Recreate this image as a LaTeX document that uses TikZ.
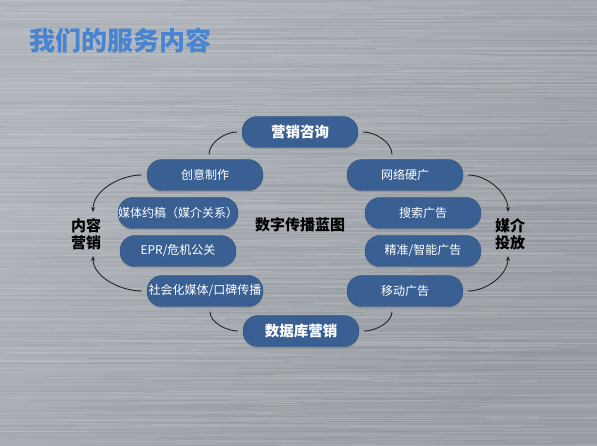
\documentclass[tikz,border=0pt]{standalone}
\usepackage{fontspec}
\newfontfamily\cjk{Noto Sans CJK SC}
\usetikzlibrary{arrows.meta,shadows}
\definecolor{boxblue}{RGB}{58,96,147}
\definecolor{titleblue}{RGB}{72,132,210}
\definecolor{metaldark}{RGB}{178,183,190}
\definecolor{metaldarker}{RGB}{152,157,163}
\definecolor{metallight}{RGB}{232,234,237}
\tikzset{
  pill/.style={draw=boxblue!85!black, fill=boxblue, rounded corners=15pt,
    minimum width=116pt, minimum height=31pt, inner sep=0pt, text=white,
    font=\cjk\fontsize{12}{14}\selectfont,
    drop shadow={opacity=0.45, shadow xshift=0pt, shadow yshift=-2pt}},
  bigpill/.style={pill, font=\cjk\bfseries\fontsize{14.5}{16}\selectfont},
  side/.style={align=center, inner sep=1pt, font=\cjk\bfseries\fontsize{15}{17}\selectfont},
  link/.style={black!85, line width=0.9pt, shorten <=5pt, shorten >=5pt},
  >={Stealth[length=5pt, width=4pt]}
}
\begin{document}
\begin{tikzpicture}[x=1pt, y=-1pt]
  \useasboundingbox (0,0) rectangle (597,446);
  \shade[top color=metaldark, middle color=metallight, bottom color=metaldarker, shading angle=50] (0,0) rectangle (597,446);
  % brushed streaks
  \begin{scope}
    \clip (0,0) rectangle (597,446);
    \pgfmathsetseed{7}
    \foreach \i in {0, 1, ..., 445}{
      \pgfmathsetmacro{\op}{0.03+0.12*rnd}
      \pgfmathsetmacro{\xa}{600*rnd-100}
      \pgfmathsetmacro{\xb}{\xa+150+350*rnd}
      \draw[white, opacity=\op, line width=0.5pt] (\xa,\i) -- (\xb,\i);
      \pgfmathsetmacro{\xc}{600*rnd-100}
      \draw[black, opacity=0.04, line width=0.4pt] (\xc,\i+0.5) -- (\xc+200,\i+0.5);
    }
  \end{scope}
  \node[anchor=west, text=titleblue, font=\cjk\bfseries\fontsize{26}{30}\selectfont] (title) at (26,40) {我们的服务内容};
  \node[bigpill] (zx) at (300,132) {营销咨询};
  \node[pill] (cy) at (205,175) {创意制作};
  \node[pill] (wl) at (405,175) {网络硬广};
  \node[pill] (mt) at (178,213) {媒体约稿（媒介关系）};
  \node[pill] (ss) at (423,213) {搜索广告};
  \node[pill] (epr) at (178,251) {EPR/危机公关};
  \node[pill] (jz) at (423,251) {精准/智能广告};
  \node[pill] (sh) at (205,291) {社会化媒体/口碑传播};
  \node[pill] (yd) at (405,291) {移动广告};
  \node[bigpill] (sj) at (301,331) {数据库营销};
  \node[font=\cjk\bfseries\fontsize{15}{17}\selectfont] (blue) at (300,225) {数字传播蓝图};
  \node[side] (nr) at (86,234) {内容\\营销};
  \node[side] (mj) at (510,234) {媒介\\投放};
  % inner ring
  \draw[link] (zx.west) to[out=180, in=90] ([xshift=4pt]cy.north);
  \draw[link] (zx.east) to[out=0, in=90] ([xshift=-13pt]wl.north);
  \draw[link] ([xshift=5pt]sh.south) to[out=-90, in=180] (sj.west);
  \draw[link] ([xshift=-13pt]yd.south) to[out=-90, in=0] (sj.east);
  % outer arrows
  \draw[link, ->] (cy.west) to[out=180, in=90] ([xshift=7pt]nr.north);
  \draw[link, ->] (sh.west) to[out=180, in=-90] ([xshift=7pt]nr.south);
  \draw[link, ->] (wl.east) to[out=0, in=90] ([xshift=-2pt]mj.north);
  \draw[link, ->] (yd.east) to[out=0, in=-90] ([xshift=-2pt]mj.south);
\end{tikzpicture}
\end{document}
